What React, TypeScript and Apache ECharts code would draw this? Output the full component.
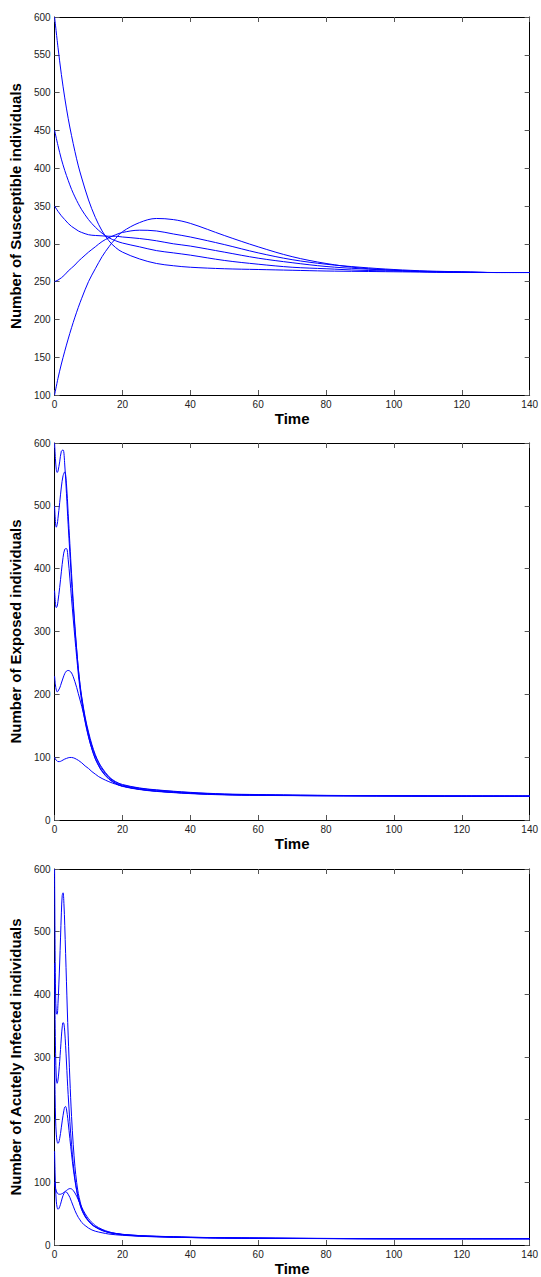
import React, { useEffect, useRef } from "react";
import * as echarts from "echarts";

// ---------- Data ----------
const timeTicks = [0, 20, 40, 60, 80, 100, 120, 140];

// Panel 1: Susceptible
const timeS = [0, 1, 2, 3, 4, 5, 6, 7, 8, 10, 12, 14, 16, 18, 20, 25, 30, 35, 40, 50, 60, 70, 80, 90, 100, 110, 120, 130, 140];
const susceptible600 = [600, 560, 524, 493, 466, 443, 422, 403, 387, 358, 335, 317, 304, 295, 289, 280, 274, 271, 269, 267, 266, 265, 264, 263.5, 263, 262.5, 262, 262, 262];
const susceptible450 = [450, 430, 412, 397, 384, 372, 362, 353, 345, 332, 322, 314, 308, 304, 301, 296, 291, 288, 285, 278, 273, 269, 267, 265, 264, 263, 262.5, 262, 262];
const susceptible350 = [350, 343, 337, 332, 327, 323, 320, 317, 315, 312, 311, 310.5, 310, 310, 309, 307, 304, 300, 297, 289, 281, 275, 270, 267, 265, 263.5, 262.5, 262, 262];
const susceptible250 = [250, 252, 255, 259, 264, 268, 272, 277, 281, 289, 296, 303, 308, 312, 315, 318, 317, 313, 309, 299, 288, 279, 273, 269, 266, 264, 263, 262, 262];
const susceptible100 = [100, 122, 141, 158, 174, 189, 203, 216, 228, 250, 267, 283, 296, 307, 316, 328, 333.5, 332, 327, 311, 296, 283, 274, 268, 265, 263, 262.5, 262, 262];

// Panel 2: Exposed
const timeE = [0, 0.25, 0.5, 0.75, 1, 1.5, 2, 2.5, 3, 3.5, 4, 4.5, 5, 5.5, 6, 6.5, 7, 7.5, 8, 9, 10, 11, 12, 13, 14, 16, 18, 20, 25, 30, 40, 50, 60, 70, 80, 100, 120, 140];
const exposed600 = [600, 575, 558, 553, 555, 570, 587, 589, 565, 520, 470, 425, 380, 340, 304, 271, 241, 216, 196, 164, 140, 120, 104, 92, 83, 69, 61, 56.5, 51, 48, 44, 41.5, 40.5, 39.8, 39.2, 38.6, 38.2, 38];
const exposed500 = [500, 475, 466, 470, 480, 505, 530, 548, 554, 535, 488, 440, 392, 348, 308, 272, 240, 214, 194, 161, 137, 117, 102, 90, 81, 68, 60, 55.5, 50.5, 47.5, 43.5, 41, 40, 39.5, 39, 38.5, 38, 38];
const exposed365 = [365, 345, 338, 340, 348, 370, 395, 418, 431, 432, 415, 385, 352, 320, 289, 260, 232, 208, 188, 156, 132, 113, 98, 87, 78, 66, 58.5, 54, 49, 46, 42.5, 40.5, 39.5, 39, 38.6, 38.3, 38, 38];
const exposed230 = [229, 215, 207, 204, 205, 210, 218, 226, 233, 237, 238, 237, 234, 228, 220, 211, 201, 191, 181, 158, 133, 113, 97, 86, 77, 65, 58, 53.5, 48.5, 45.5, 42, 40, 39.2, 38.8, 38.5, 38.2, 38, 38];
const exposed100 = [100, 97, 95, 94, 93, 93, 94, 95.5, 97, 98, 99, 99.5, 99.5, 99, 98, 96.5, 95, 93, 91, 86, 82, 77, 73, 69, 66, 61, 57, 54, 49, 46, 42.5, 40.5, 39.5, 39, 38.7, 38.3, 38, 38];

// Panel 3: Acutely infected
const timeA = [0, 0.15, 0.3, 0.5, 0.75, 1, 1.25, 1.5, 1.75, 2, 2.25, 2.5, 2.75, 3, 3.25, 3.5, 3.75, 4, 4.5, 5, 5.5, 6, 6.5, 7, 7.5, 8, 9, 10, 11, 12, 14, 16, 18, 20, 25, 30, 40, 50, 60, 80, 100, 120, 140];
const acute600 = [600, 470, 400, 370, 368, 385, 415, 450, 490, 530, 558, 562, 545, 510, 465, 420, 375, 335, 265, 205, 160, 125, 100, 82, 70, 60, 47, 39, 33, 29, 24, 20.5, 18.5, 17, 15, 14, 12.5, 11.5, 11, 10.5, 10, 10, 10];
const acute450 = [450, 360, 305, 268, 258, 263, 276, 293, 312, 332, 348, 355, 353, 340, 318, 292, 265, 240, 197, 160, 130, 106, 88, 75, 65, 57, 46, 38.5, 33, 29, 23.5, 20, 18, 16.5, 14.5, 13.5, 12, 11.3, 10.8, 10.3, 10, 10, 10];
const acute300 = [300, 240, 200, 177, 165, 162, 164, 170, 178, 188, 198, 207, 215, 220, 221, 217, 208, 196, 170, 145, 122, 103, 87, 74, 64, 56, 45, 38, 32.5, 28.5, 23, 19.8, 17.8, 16.3, 14.3, 13.3, 12, 11.2, 10.8, 10.3, 10, 10, 10];
const acute150 = [150, 115, 90, 70, 60, 57, 58, 61, 65, 70, 75, 79, 82, 84, 85, 84.5, 83, 81, 76, 69, 62, 55, 49, 44, 40, 36, 31, 27, 24, 22, 19.5, 17.5, 16.3, 15.5, 14, 13, 11.8, 11.1, 10.7, 10.2, 10, 10, 10];
const acute100 = [100, 94, 90, 86, 83, 82, 81, 81, 81, 81.5, 82, 83, 84, 85, 86, 87, 88, 89, 90, 89.5, 87, 83, 78, 72, 66, 60, 50, 42, 36, 31, 25, 21, 18.5, 17, 15, 13.8, 12.3, 11.5, 11, 10.4, 10.1, 10, 10];

const panels = [
  { yTitle: "Number of Susceptible individuals", yMin: 100, yMax: 600, yStep: 50, time: timeS, curves: [susceptible600, susceptible450, susceptible350, susceptible250, susceptible100] },
  { yTitle: "Number of Exposed individuals", yMin: 0, yMax: 600, yStep: 100, time: timeE, curves: [exposed600, exposed500, exposed365, exposed230, exposed100] },
  { yTitle: "Number of Acutely Infected individuals", yMin: 0, yMax: 600, yStep: 100, time: timeA, curves: [acute600, acute450, acute300, acute150, acute100] },
];

const FONT = "'Liberation Sans', Arial, Helvetica, sans-serif";
const W = 541;
const H = 1277;
const gridBoxes = [
  { top: 17, height: 378 },
  { top: 443, height: 377 },
  { top: 869, height: 378 },
];

export default function App() {
  const ref = useRef<HTMLDivElement>(null);

  useEffect(() => {
    document.body.style.margin = "0";
    if (!ref.current) return;
    const chart = echarts.init(ref.current, undefined, { renderer: "svg", width: W, height: H });

    const axisLine = { show: true, onZero: false, lineStyle: { color: "#000", width: 1 } };
    const axisTick = { show: true, inside: true, length: 5, lineStyle: { color: "#555", width: 1 } };
    const labelStyle = { fontSize: 10, color: "#222", fontFamily: FONT };

    const grid: any[] = [];
    const xAxis: any[] = [];
    const yAxis: any[] = [];
    const series: any[] = [];

    panels.forEach((p, i) => {
      grid.push({ left: 54, right: 8, top: gridBoxes[i].top, height: gridBoxes[i].height, containLabel: false });
      const xBase = {
        type: "value",
        gridIndex: i,
        min: timeTicks[0],
        max: timeTicks[timeTicks.length - 1],
        interval: timeTicks[1] - timeTicks[0],
        splitLine: { show: false },
        axisLine,
        axisTick,
      };
      xAxis.push({
        ...xBase,
        position: "bottom",
        axisLabel: { ...labelStyle, margin: 4, showMinLabel: true, showMaxLabel: true },
        name: "Time",
        nameLocation: "middle",
        nameGap: 16,
        nameTextStyle: { fontSize: 15, fontWeight: "bold", color: "#000", fontFamily: FONT },
      });
      xAxis.push({ ...xBase, position: "top", axisLabel: { show: false } });

      const yBase = {
        type: "value",
        gridIndex: i,
        min: p.yMin,
        max: p.yMax,
        interval: p.yStep,
        splitLine: { show: false },
        axisLine,
        axisTick,
      };
      yAxis.push({
        ...yBase,
        position: "left",
        axisLabel: { ...labelStyle, margin: 4, showMinLabel: true, showMaxLabel: true },
        name: p.yTitle,
        nameLocation: "middle",
        nameGap: 22,
        nameRotate: 90,
        nameTextStyle: { fontSize: 15, fontWeight: "bold", color: "#000", fontFamily: FONT },
      });
      yAxis.push({ ...yBase, position: "right", axisLabel: { show: false } });

      p.curves.forEach((vals) => {
        series.push({
          type: "line",
          xAxisIndex: 2 * i,
          yAxisIndex: 2 * i,
          data: p.time.map((t, k) => [t, vals[k]]),
          showSymbol: false,
          symbol: "none",
          smooth: 0.35,
          clip: true,
          lineStyle: { color: "#0000ff", width: 1 },
          emphasis: { disabled: true },
        });
      });
    });

    chart.setOption({
      animation: false,
      backgroundColor: "#fff",
      textStyle: { fontFamily: FONT },
      grid,
      xAxis,
      yAxis,
      series,
    });

    return () => chart.dispose();
  }, []);

  return <div ref={ref} style={{ width: W, height: H, position: "absolute", left: 0, top: 0 }} />;
}
